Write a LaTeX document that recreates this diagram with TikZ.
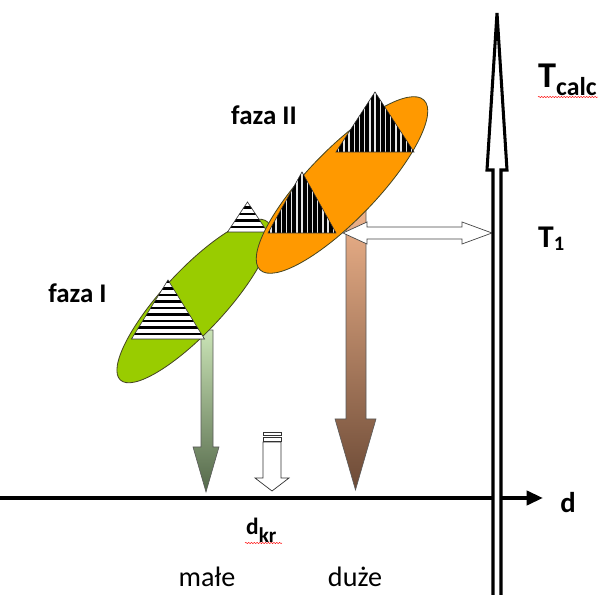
\documentclass[tikz,border=0pt]{standalone}
\usepackage{fontspec}
\setmainfont{Carlito}
\usetikzlibrary{arrows.meta,decorations.pathmorphing}

\definecolor{fazaone}{RGB}{153,204,0}
\definecolor{fazatwo}{RGB}{255,153,0}
\definecolor{rimline}{RGB}{70,70,35}
\definecolor{greentop}{RGB}{202,228,182}
\definecolor{greenbot}{RGB}{84,104,74}
\definecolor{browntop}{RGB}{240,180,140}
\definecolor{brownbot}{RGB}{108,74,54}

\tikzset{
  axisline/.style={line width=3.4pt, -{Triangle[length=14pt,width=12pt]}},
  taxis/.style={line width=2.6pt, fill=white, draw=black},
  blockarrow/.style={draw=gray!70!black, line width=0.5pt},
  hollowarrow/.style={draw=gray!40!black, fill=white, line width=0.6pt},
  twoway/.style={draw=gray!55!black, fill=white, line width=0.6pt},
  phase/.style={draw=rimline, line width=0.7pt},
  wedgeline/.style={draw=black!80, line width=0.5pt},
  spellwave/.style={red, line width=0.4pt, decorate,
    decoration={snake, amplitude=0.5pt, segment length=2.4pt}},
  lbl/.style={inner sep=0pt, anchor=base},
  fazafont/.style={font=\fontsize{23}{26}\selectfont\bfseries},
  smallfont/.style={font=\fontsize{24}{27}\selectfont}
}

\begin{document}
\begin{tikzpicture}[x=0.03cm, y=-0.03cm]
\useasboundingbox (0,0) rectangle (602,595);

% size axis d
\coordinate (dstart) at (0,498);
\coordinate (dend) at (543,498);
\draw[axisline] (dstart) -- (dend);

% block arrows falling onto the axis
\shadedraw[blockarrow, top color=greentop, bottom color=greenbot]
  (201,330) -- (201,447) -- (193,447) -- (206,492) -- (219,447) -- (213,447) -- (213,330) -- cycle;
\shadedraw[blockarrow, top color=browntop, bottom color=brownbot]
  (346,205) -- (346,419) -- (335,419) -- (355.5,490) -- (376,419) -- (366,419) -- (366,205) -- cycle;

% d_kr marker
\draw[hollowarrow] (263,442) -- (263,478) -- (255,478) -- (272,491) -- (289,478) -- (281,478) -- (281,442) -- cycle;
\draw[hollowarrow] (263,432) rectangle (281,435.5);
\draw[hollowarrow] (263,437.5) rectangle (281,441);

% phase I
\draw[phase, fill=fazaone, rotate around={47:(194,301)}] (194,301) ellipse (108 and 31);
\foreach \ax/\ay/\hw/\h in {168/280/36.5/59, 247.5/202/20/30} {
  \begin{scope}
    \clip (\ax,\ay) -- (\ax-\hw,\ay+\h) -- (\ax+\hw,\ay+\h) -- cycle;
    \fill[white] (\ax-\hw,\ay) rectangle (\ax+\hw,\ay+\h);
    \foreach \k in {0,...,9}
      \fill[black] (\ax-\hw,\ay+\h-3.5-\k*6.5) rectangle ++(2*\hw,-2.8);
  \end{scope}
  \draw[wedgeline] (\ax,\ay) -- (\ax-\hw,\ay+\h) -- (\ax+\hw,\ay+\h) -- cycle;
}

% phase II
\draw[phase, fill=fazatwo, rotate around={46:(342,185)}] (342,185) ellipse (118 and 35);
\foreach \ax/\ay/\hw/\h in {302/172/34/61, 375/92/39/60} {
  \begin{scope}
    \clip (\ax,\ay) -- (\ax-\hw,\ay+\h) -- (\ax+\hw,\ay+\h) -- cycle;
    \fill[black] (\ax-\hw,\ay) rectangle (\ax+\hw,\ay+\h);
    \foreach \k in {-8,...,8}
      \fill[white!80!gray] (\ax+\k*5.2-0.6,\ay) rectangle ++(1.3,\h);
  \end{scope}
  \draw[wedgeline] (\ax,\ay) -- (\ax-\hw,\ay+\h) -- (\ax+\hw,\ay+\h) -- cycle;
}

% link to T_1
\draw[twoway] (343,233) -- (367,222) -- (367,227) -- (462,227) -- (462,222) -- (492,233)
  -- (462,244) -- (462,239) -- (367,239) -- (367,244) -- cycle;

% temperature axis
\filldraw[taxis] (493,600) -- (493,170) -- (487,170) -- (497,13) -- (507,170) -- (501,170) -- (501,600);
\draw[line width=3.4pt] (501,498) -- (506,498);

% labels
\node[lbl, fazafont] (fazaI) at (77.5,303) {faza I};
\node[lbl, fazafont] (fazaII) at (264,125) {faza II};
\node[lbl, font=\fontsize{24.5}{27}\selectfont\bfseries] (dlabel) at (568,513) {d};
\node[lbl, anchor=base west, font=\fontsize{20}{22}\selectfont\bfseries] (dkr) at (246,535)
  {d{\fontsize{18}{18}\selectfont\raisebox{-6pt}{kr}}};
\node[lbl, anchor=base west, font=\fontsize{31}{34}\selectfont\bfseries] (Tcalc) at (538,88)
  {T{\fontsize{22}{22}\selectfont\raisebox{-6pt}{calc}}};
\node[lbl, anchor=base west, font=\fontsize{27}{30}\selectfont\bfseries] (Tone) at (538,248)
  {T{\fontsize{17.5}{18}\selectfont\raisebox{-2pt}{1}}};
\node[lbl, smallfont] (male) at (207,587) {małe};
\node[lbl, smallfont] (duze) at (355,587) {duże};

% spell-check marks
\draw[spellwave] (538,97) -- (598,97);
\draw[spellwave] (245,543) -- (282,543);

\end{tikzpicture}
\end{document}
